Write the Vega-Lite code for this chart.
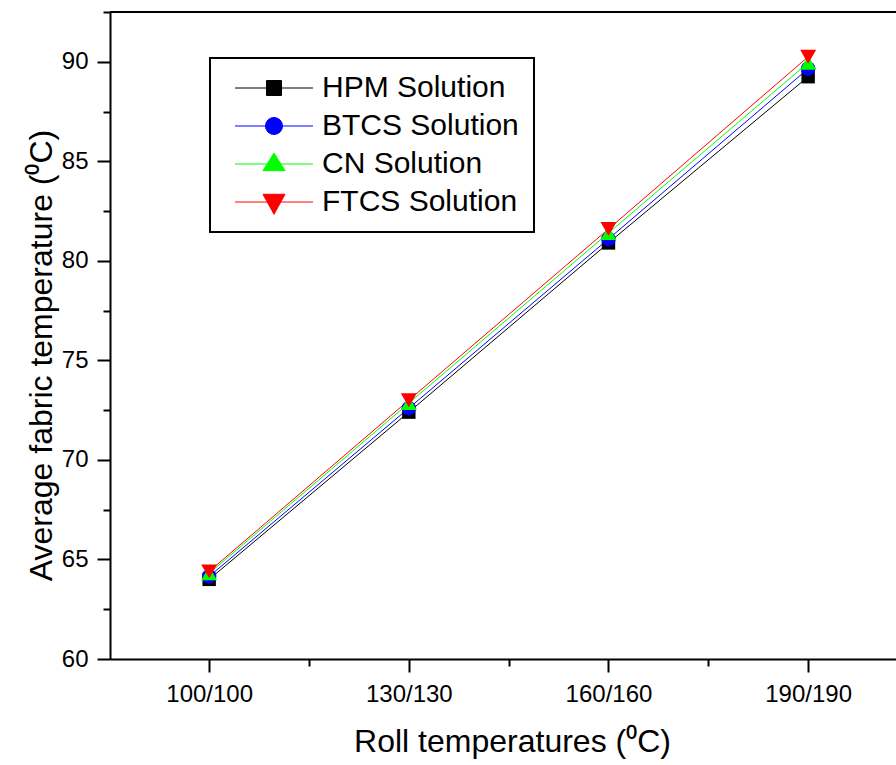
{
  "$schema": "https://vega.github.io/schema/vega-lite/v6.json",
  "width": 786,
  "height": 647,
  "autosize": {"type": "none"},
  "padding": {"left": 110, "top": 12, "right": 0, "bottom": 106},
  "background": "white",
  "data": {
    "values": [
      {"roll": 100, "series": "HPM Solution", "temp": 64.0},
      {"roll": 130, "series": "HPM Solution", "temp": 72.4},
      {"roll": 160, "series": "HPM Solution", "temp": 80.9},
      {"roll": 190, "series": "HPM Solution", "temp": 89.25},
      {"roll": 100, "series": "BTCS Solution", "temp": 64.15},
      {"roll": 130, "series": "BTCS Solution", "temp": 72.6},
      {"roll": 160, "series": "BTCS Solution", "temp": 81.1},
      {"roll": 190, "series": "BTCS Solution", "temp": 89.65},
      {"roll": 100, "series": "CN Solution", "temp": 64.3},
      {"roll": 130, "series": "CN Solution", "temp": 72.85},
      {"roll": 160, "series": "CN Solution", "temp": 81.4},
      {"roll": 190, "series": "CN Solution", "temp": 89.95},
      {"roll": 100, "series": "FTCS Solution", "temp": 64.4},
      {"roll": 130, "series": "FTCS Solution", "temp": 73.0},
      {"roll": 160, "series": "FTCS Solution", "temp": 81.6},
      {"roll": 190, "series": "FTCS Solution", "temp": 90.25}
    ]
  },
  "encoding": {
    "x": {
      "field": "roll",
      "type": "quantitative",
      "scale": {"domain": [85.1, 203.2], "nice": false, "zero": false},
      "axis": {
        "title": "Roll temperatures (⁰C)",
        "titleX": 402,
        "titleFontSize": 32,
        "values": [100, 115, 130, 145, 160, 175, 190],
        "labelExpr": "datum.value % 30 === 10 ? datum.value + '/' + datum.value : ''",
        "tickSize": {"expr": "datum.value % 30 === 10 ? 13 : 7"},
        "labelPadding": 10,
        "titlePadding": 20
      }
    },
    "y": {
      "field": "temp",
      "type": "quantitative",
      "scale": {"domain": [60, 92.5], "nice": false, "zero": false},
      "axis": {
        "title": "Average fabric temperature (⁰C)",
        "titleY": 343,
        "titleFontSize": 32,
        "values": [60, 62.5, 65, 67.5, 70, 72.5, 75, 77.5, 80, 82.5, 85, 87.5, 90, 92.5],
        "labelExpr": "datum.value % 5 === 0 ? datum.value : ''",
        "tickSize": {"expr": "datum.value % 5 === 0 ? 13 : 7"},
        "labelPadding": 9,
        "titlePadding": 3
      }
    },
    "color": {
      "field": "series",
      "type": "nominal",
      "scale": {
        "domain": ["HPM Solution", "BTCS Solution", "CN Solution", "FTCS Solution"],
        "range": ["#000000", "#0000ff", "#00ff00", "#ff0000"]
      },
      "legend": null
    }
  },
  "layer": [
    {
      "mark": {"type": "rule", "color": "black", "strokeWidth": 2},
      "encoding": {"y": {"datum": 92.5}, "x": null, "color": null}
    },
    {
      "mark": {"type": "line"},
      "encoding": {
        "color": {
          "field": "series",
          "type": "nominal",
          "sort": ["HPM Solution", "BTCS Solution", "CN Solution", "FTCS Solution"],
          "scale": {
            "domain": ["HPM Solution", "BTCS Solution", "CN Solution", "FTCS Solution"],
            "range": ["#000000", "#0000ff", "#00ff00", "#ff0000"]
          },
          "legend": {
            "title": null,
            "orient": "none",
            "legendX": 100,
            "legendY": 46,
            "padding": 15,
            "rowPadding": 8,
            "symbolSize": 225,
            "symbolStrokeWidth": 1,
            "symbolOffset": 34,
            "labelOffset": 33,
            "labelFontSize": 30,
            "labelFont": "Liberation Sans",
            "labelColor": "black",
            "labelLimit": 400,
            "labelExpr": "datum.label + '\u00a0\u00a0\u00a0\u00a0'",
            "strokeColor": "black",
            "symbolFillColor": {"expr": "scale('color', datum.value)"},
            "symbolType": {"expr": "datum.value === 'HPM Solution' ? 'M-5.2,0H5.2M-1,-1H1V1H-1Z' : datum.value === 'BTCS Solution' ? 'M-5.2,0H5.2M-1.13,0A1.13,1.13,0,1,1,1.13,0A1.13,1.13,0,1,1,-1.13,0Z' : datum.value === 'CN Solution' ? 'M-5.2,0H5.2M0,-1.47L1.47,0.89L-1.47,0.89Z' : 'M-5.2,0H5.2M0,1.64L-1.47,-1.03L1.47,-1.03Z'"}
          }
        }
      }
    },
    {
      "transform": [{"filter": "datum.series === 'HPM Solution'"}],
      "mark": {"type": "point", "shape": "square", "size": 180, "filled": true, "opacity": 1}
    },
    {
      "transform": [{"filter": "datum.series === 'BTCS Solution'"}],
      "mark": {"type": "point", "shape": "circle", "size": 210, "filled": true, "opacity": 1}
    },
    {
      "transform": [{"filter": "datum.series === 'CN Solution'"}],
      "mark": {"type": "point", "shape": "triangle-up", "size": 256, "filled": true, "opacity": 1}
    },
    {
      "transform": [{"filter": "datum.series === 'FTCS Solution'"}],
      "mark": {"type": "point", "shape": "triangle-down", "size": 256, "filled": true, "opacity": 1}
    }
  ],
  "config": {
    "view": {"stroke": null},
    "line": {"strokeWidth": 1},
    "legend": {"strokeWidth": 2},
    "axis": {
      "grid": false,
      "domainColor": "black",
      "domainWidth": 2,
      "tickColor": "black",
      "tickWidth": 2,
      "labelColor": "black",
      "labelFont": "Liberation Sans",
      "labelFontSize": 24,
      "titleColor": "black",
      "titleFont": "Liberation Sans",
      "titleFontSize": 30,
      "titleFontWeight": "normal"
    }
  }
}
